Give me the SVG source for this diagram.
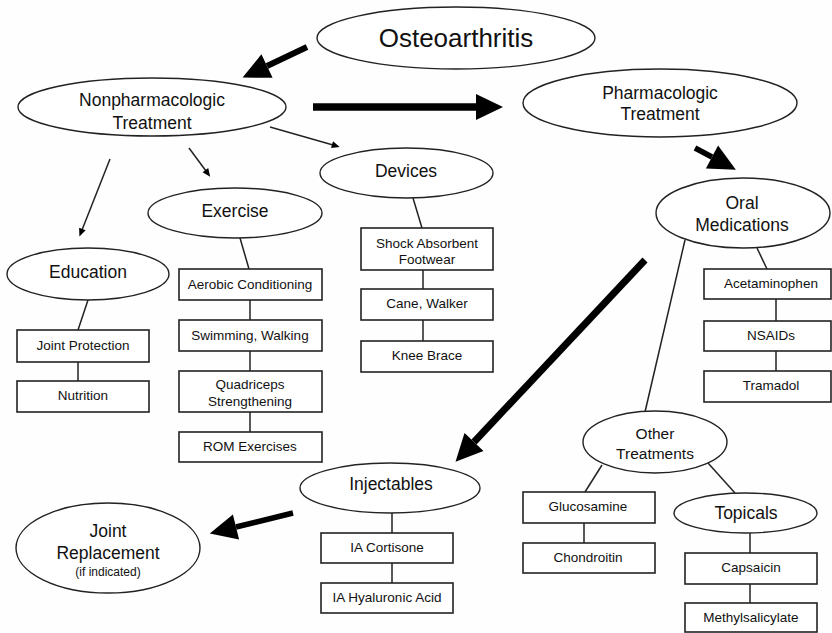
<svg xmlns="http://www.w3.org/2000/svg" width="832" height="633" viewBox="0 0 832 633">
<style>
.el{fill:#fff;stroke:#222;stroke-width:1.4}
.bx{fill:#fff;stroke:#222;stroke-width:1.6}
.ln{stroke:#222;stroke-width:1.5;fill:none}
.th{stroke:#000;fill:none}
text{font-family:"Liberation Sans",Arial,sans-serif;fill:#111;text-anchor:middle;dominant-baseline:central}
.t{font-size:13.5px}
.m{font-size:17.5px}
.s{font-size:15.5px}
.big{font-size:26px}
</style>
<defs>
<marker id="hd" markerUnits="userSpaceOnUse" markerWidth="30" markerHeight="30" refX="0" refY="13" orient="auto" overflow="visible">
<path d="M0,0 L27,13 L0,26 z" fill="#000"/>
</marker>
<marker id="hs" markerUnits="userSpaceOnUse" markerWidth="12" markerHeight="10" refX="1" refY="3.5" orient="auto" overflow="visible">
<path d="M0,0 L8,3.5 L0,7 z" fill="#000"/>
</marker>
</defs>
<rect width="832" height="633" fill="#fefefe"/>
<g id="connectors">
<line class="th" x1="307" y1="47" x2="267" y2="66" stroke-width="6" marker-end="url(#hd)"/>
<line class="th" x1="313" y1="107" x2="476" y2="107" stroke-width="7.5" marker-end="url(#hd)"/>
<line class="th" x1="695" y1="148" x2="712" y2="157" stroke-width="5.5" marker-end="url(#hd)"/>
<line class="th" x1="645" y1="260" x2="474" y2="442" stroke-width="7" marker-end="url(#hd)"/>
<line class="th" x1="293" y1="513" x2="236" y2="527" stroke-width="5.5" marker-end="url(#hd)"/>
<line class="ln" x1="270" y1="127" x2="333" y2="145" stroke-width="1.3" marker-end="url(#hs)"/>
<line class="ln" x1="189" y1="148" x2="206" y2="171" stroke-width="1.3" marker-end="url(#hs)"/>
<line class="ln" x1="110" y1="159" x2="82" y2="230" stroke-width="1.3" marker-end="url(#hs)"/>
<line class="ln" x1="88" y1="300" x2="78" y2="330"/>
<line class="ln" x1="78" y1="362" x2="78" y2="381"/>
<line class="ln" x1="240" y1="238" x2="249" y2="269"/>
<line class="ln" x1="250" y1="300" x2="250" y2="320"/>
<line class="ln" x1="250" y1="351" x2="250" y2="371"/>
<line class="ln" x1="250" y1="412" x2="250" y2="432"/>
<line class="ln" x1="413" y1="198" x2="422" y2="228"/>
<line class="ln" x1="423" y1="270" x2="423" y2="289"/>
<line class="ln" x1="423" y1="320" x2="423" y2="341"/>
<line class="ln" x1="757" y1="248" x2="767" y2="269"/>
<line class="ln" x1="776" y1="299" x2="776" y2="321"/>
<line class="ln" x1="776" y1="351" x2="776" y2="371"/>
<line class="ln" x1="685" y1="240" x2="645" y2="412"/>
<line class="ln" x1="602" y1="465" x2="585" y2="492"/>
<line class="ln" x1="584" y1="523" x2="584" y2="543"/>
<line class="ln" x1="708" y1="463" x2="735" y2="493"/>
<line class="ln" x1="750" y1="533" x2="750" y2="553"/>
<line class="ln" x1="750" y1="584" x2="750" y2="603"/>
<line class="ln" x1="392" y1="513" x2="392" y2="533"/>
<line class="ln" x1="392" y1="563" x2="392" y2="583"/>
</g>
<g id="osteoarthritis"><ellipse class="el" cx="456" cy="38" rx="139" ry="31"/><text class="big" x="456" y="38">Osteoarthritis</text></g>
<g id="nonpharm"><ellipse class="el" cx="152" cy="107" rx="134" ry="29"/><text class="m" x="152" y="100">Nonpharmacologic</text><text class="m" x="152" y="123">Treatment</text></g>
<g id="pharm"><ellipse class="el" cx="660" cy="103" rx="137" ry="34"/><text class="m" x="660" y="93">Pharmacologic</text><text class="m" x="660" y="114">Treatment</text></g>
<g id="devices"><ellipse class="el" cx="406.5" cy="173" rx="86.5" ry="25"/><text class="m" x="406" y="171">Devices</text></g>
<g id="exercise"><ellipse class="el" cx="235" cy="213" rx="87" ry="25"/><text class="m" x="235" y="211">Exercise</text></g>
<g id="education"><ellipse class="el" cx="88" cy="274" rx="81" ry="26"/><text class="m" x="88" y="272">Education</text></g>
<g id="oral"><ellipse class="el" cx="743" cy="213" rx="87" ry="35"/><text class="m" x="742" y="203">Oral</text><text class="m" x="742" y="225">Medications</text></g>
<g id="joint-protection"><rect class="bx" x="17" y="330" width="132" height="32"/><text class="t" x="83" y="345">Joint Protection</text></g>
<g id="nutrition"><rect class="bx" x="17" y="381" width="132" height="31"/><text class="t" x="83" y="395">Nutrition</text></g>
<g id="aerobic"><rect class="bx" x="179" y="269" width="143" height="31"/><text class="t" x="250" y="284">Aerobic Conditioning</text></g>
<g id="swimming"><rect class="bx" x="179" y="320" width="143" height="31"/><text class="t" x="250" y="335">Swimming, Walking</text></g>
<g id="quadriceps"><rect class="bx" x="179" y="371" width="143" height="41"/><text class="t" x="250" y="384">Quadriceps</text><text class="t" x="250" y="401">Strengthening</text></g>
<g id="rom"><rect class="bx" x="179" y="432" width="143" height="30"/><text class="t" x="250" y="446">ROM Exercises</text></g>
<g id="shock"><rect class="bx" x="361" y="228" width="132" height="42"/><text class="t" x="427" y="243">Shock Absorbent</text><text class="t" x="427" y="259">Footwear</text></g>
<g id="cane"><rect class="bx" x="361" y="289" width="132" height="31"/><text class="t" x="427" y="303">Cane, Walker</text></g>
<g id="knee"><rect class="bx" x="361" y="341" width="132" height="31"/><text class="t" x="427" y="355">Knee Brace</text></g>
<g id="acetaminophen"><rect class="bx" x="704" y="269" width="127" height="30"/><text class="t" x="771" y="283">Acetaminophen</text></g>
<g id="nsaids"><rect class="bx" x="704" y="321" width="127" height="30"/><text class="t" x="771" y="335">NSAIDs</text></g>
<g id="tramadol"><rect class="bx" x="704" y="371" width="127" height="31"/><text class="t" x="771" y="385">Tramadol</text></g>
<g id="other"><ellipse class="el" cx="655" cy="442" rx="72" ry="31"/><text class="s" x="655" y="433">Other</text><text class="s" x="655" y="453">Treatments</text></g>
<g id="glucosamine"><rect class="bx" x="523" y="492" width="132" height="31"/><text class="t" x="588" y="506">Glucosamine</text></g>
<g id="chondroitin"><rect class="bx" x="523" y="543" width="132" height="30"/><text class="t" x="588" y="557">Chondroitin</text></g>
<g id="topicals"><ellipse class="el" cx="745.5" cy="513" rx="71.5" ry="20"/><text class="m" x="746" y="513">Topicals</text></g>
<g id="capsaicin"><rect class="bx" x="685" y="553" width="132" height="31"/><text class="t" x="751" y="567">Capsaicin</text></g>
<g id="methylsalicylate"><rect class="bx" x="685" y="603" width="132" height="29"/><text class="t" x="751" y="617">Methylsalicylate</text></g>
<g id="injectables"><ellipse class="el" cx="390" cy="488" rx="90" ry="25"/><text class="m" x="391" y="484">Injectables</text></g>
<g id="ia-cortisone"><rect class="bx" x="321" y="533" width="132" height="30"/><text class="t" x="387" y="547">IA Cortisone</text></g>
<g id="ia-hyaluronic"><rect class="bx" x="321" y="583" width="132" height="30"/><text class="t" x="387" y="597">IA Hyaluronic Acid</text></g>
<g id="joint-replacement"><ellipse class="el" cx="108" cy="548" rx="92" ry="45"/><text class="m" x="108" y="531">Joint</text><text class="m" x="108" y="553">Replacement</text><text x="108" y="572" font-size="12">(if indicated)</text></g>
</svg>
